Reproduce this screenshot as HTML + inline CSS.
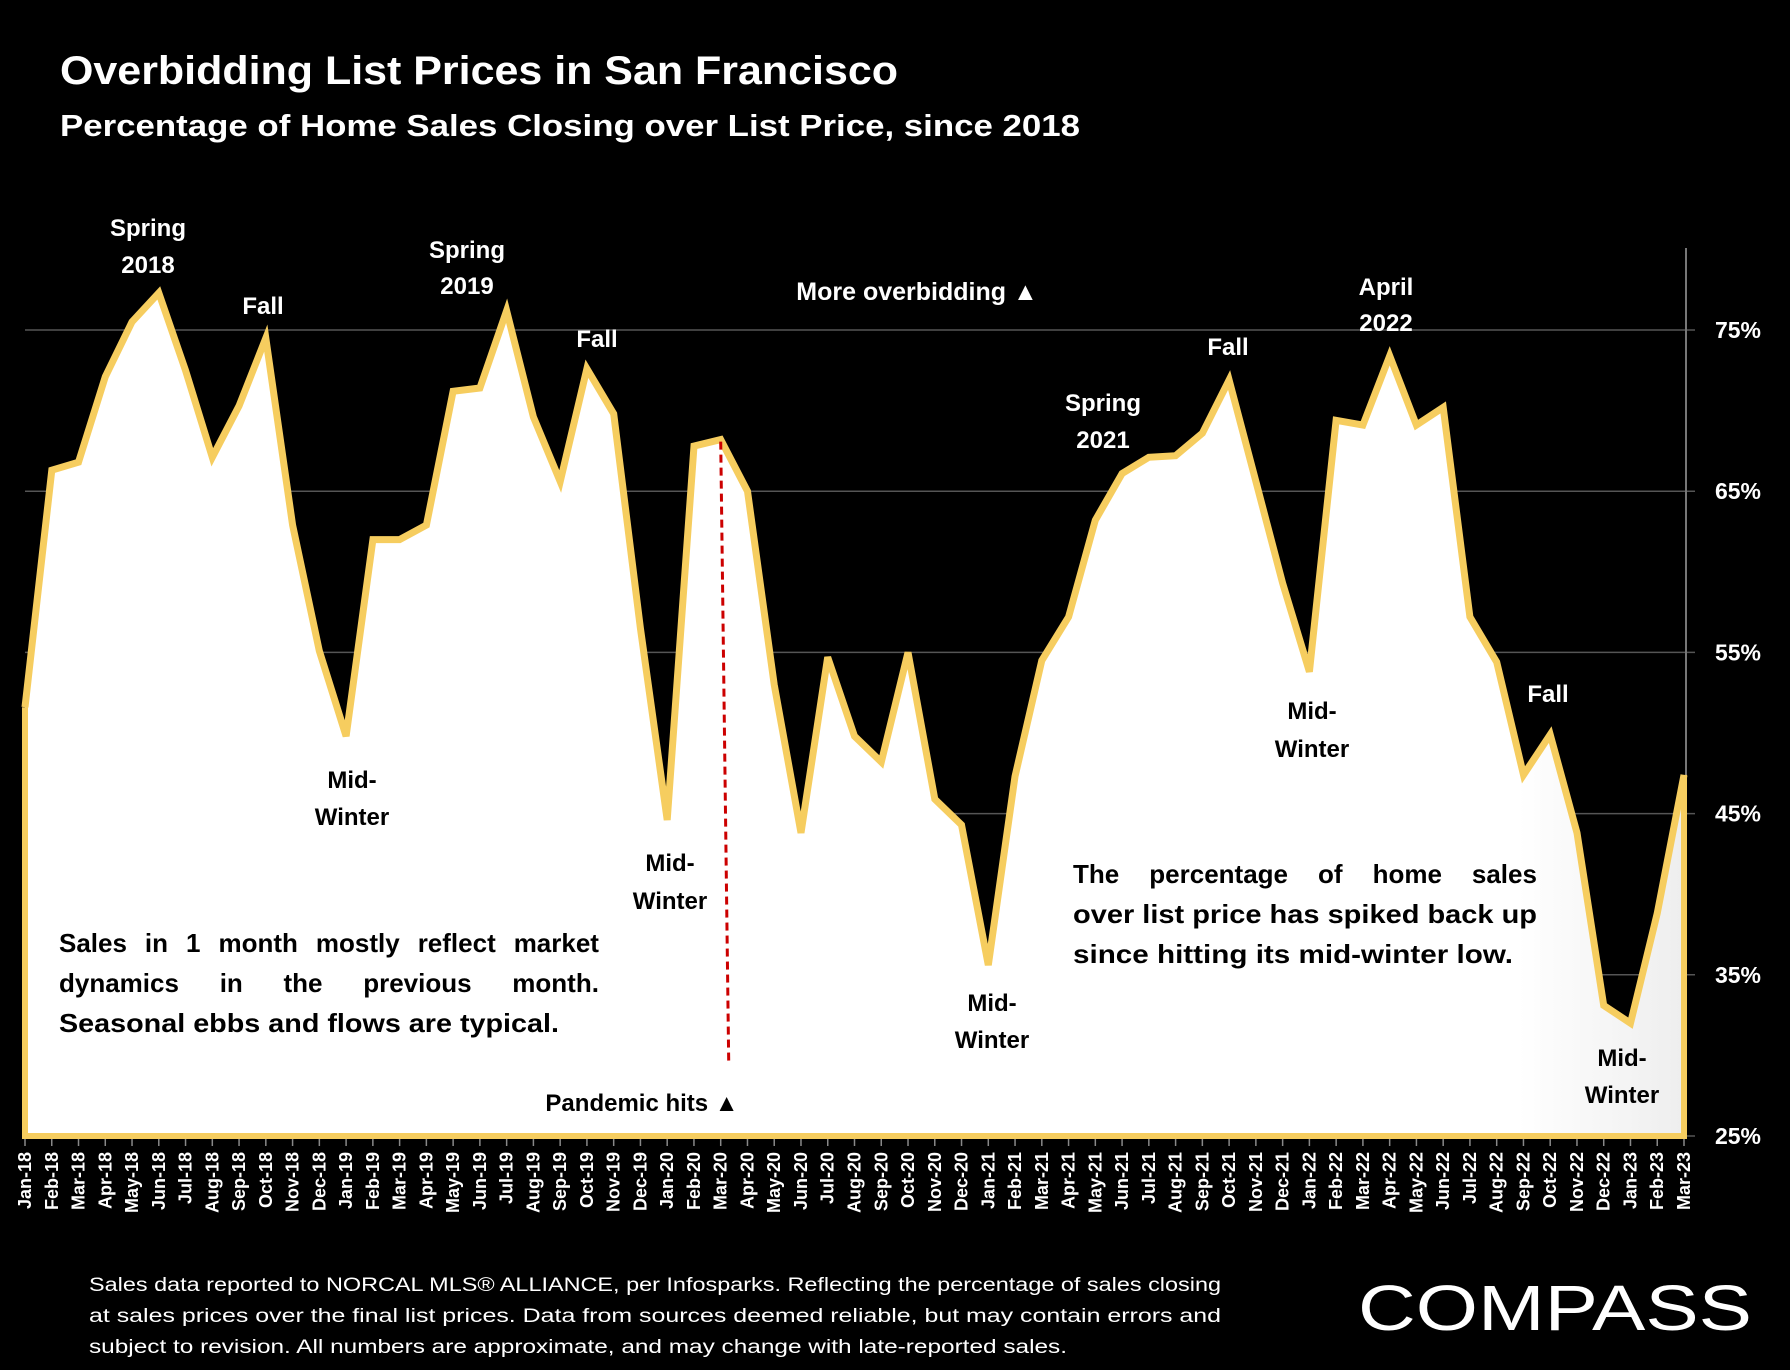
<!DOCTYPE html>
<html><head><meta charset="utf-8"><style>
html,body{margin:0;padding:0;background:#000;}
svg{display:block;font-family:"Liberation Sans",sans-serif;font-weight:bold;}
</style></head><body>
<svg id="chart" width="1790" height="1370" viewBox="0 0 1790 1370" xmlns="http://www.w3.org/2000/svg">
<defs>
<linearGradient id="fillg" x1="0" y1="0" x2="1" y2="0">
<stop offset="0" stop-color="#fff"/><stop offset="0.9" stop-color="#fff"/><stop offset="1" stop-color="#eee"/>
</linearGradient>
</defs>
<rect width="1790" height="1370" fill="#000"/>
<text x="60" y="84" fill="#fff" font-size="40" textLength="838" lengthAdjust="spacingAndGlyphs">Overbidding List Prices in San Francisco</text>
<text x="60" y="136" fill="#fff" font-size="31" textLength="1020" lengthAdjust="spacingAndGlyphs">Percentage of Home Sales Closing over List Price, since 2018</text>
<g id="grid"></g>
<g id="plot"></g>
<g id="labels" fill="#fff" font-size="24" text-anchor="middle">
<text x="148" y="236">Spring</text>
<text x="148" y="273">2018</text>
<text x="263" y="314">Fall</text>
<text x="467" y="258">Spring</text>
<text x="467" y="294">2019</text>
<text x="597" y="347">Fall</text>
<text x="917" y="300" font-size="25">More overbidding ▲</text>
<text x="1103" y="411">Spring</text>
<text x="1103" y="448">2021</text>
<text x="1228" y="355">Fall</text>
<text x="1386" y="295">April</text>
<text x="1386" y="331">2022</text>
<text x="1548" y="702">Fall</text>
</g>
<g id="labels2" fill="#000" font-size="24" text-anchor="middle">
<text x="352" y="788">Mid-</text>
<text x="352" y="825">Winter</text>
<text x="670" y="871">Mid-</text>
<text x="670" y="909">Winter</text>
<text x="873" y="592">2020 pandemic</text>
<text x="873" y="629">market</text>
<text x="992" y="1011">Mid-</text>
<text x="992" y="1048">Winter</text>
<text x="1312" y="719">Mid-</text>
<text x="1312" y="757">Winter</text>
<text x="1622" y="1066">Mid-</text>
<text x="1622" y="1103">Winter</text>
<text x="642" y="1111">Pandemic hits ▲</text>
</g>
<g fill="#000" font-size="26">
<text class="just" data-w="540" x="59" y="952">Sales in 1 month mostly reflect market</text>
<text class="just" data-w="540" x="59" y="992">dynamics in the previous month.</text>
<text x="59" y="1032" textLength="500" lengthAdjust="spacingAndGlyphs">Seasonal ebbs and flows are typical.</text>
</g>
<g fill="#000" font-size="26">
<text class="just" data-w="464" x="1073" y="883">The percentage of home sales</text>
<text x="1073" y="923" textLength="464" lengthAdjust="spacingAndGlyphs">over list price has spiked back up</text>
<text x="1073" y="963" textLength="440" lengthAdjust="spacingAndGlyphs">since hitting its mid-winter low.</text>
</g>
<g fill="#fff" font-size="19" font-weight="normal">
<text x="89" y="1291" textLength="1132" lengthAdjust="spacingAndGlyphs">Sales data reported to NORCAL MLS® ALLIANCE, per Infosparks. Reflecting the percentage of sales closing</text>
<text x="89" y="1322" textLength="1132" lengthAdjust="spacingAndGlyphs">at sales prices over the final list prices. Data from sources deemed reliable, but may contain errors and</text>
<text x="89" y="1353" textLength="978" lengthAdjust="spacingAndGlyphs">subject to revision. All numbers are approximate, and may change with late-reported sales.</text>
</g>
<text x="1358" y="1330" fill="#fff" font-size="64" font-weight="normal" textLength="394" lengthAdjust="spacingAndGlyphs">COMPASS</text>
</svg>
<script>
const months = ["Jan-18","Feb-18","Mar-18","Apr-18","May-18","Jun-18","Jul-18","Aug-18","Sep-18","Oct-18","Nov-18","Dec-18","Jan-19","Feb-19","Mar-19","Apr-19","May-19","Jun-19","Jul-19","Aug-19","Sep-19","Oct-19","Nov-19","Dec-19","Jan-20","Feb-20","Mar-20","Apr-20","May-20","Jun-20","Jul-20","Aug-20","Sep-20","Oct-20","Nov-20","Dec-20","Jan-21","Feb-21","Mar-21","Apr-21","May-21","Jun-21","Jul-21","Aug-21","Sep-21","Oct-21","Nov-21","Dec-21","Jan-22","Feb-22","Mar-22","Apr-22","May-22","Jun-22","Jul-22","Aug-22","Sep-22","Oct-22","Nov-22","Dec-22","Jan-23","Feb-23","Mar-23"];
const values = [51.6,66.3,66.8,72.1,75.5,77.3,72.5,67.1,70.3,74.5,62.9,55.1,49.8,62.0,62.0,62.9,71.2,71.4,76.2,69.6,65.6,72.6,69.8,56.5,44.6,67.8,68.2,65.0,53.0,43.8,54.7,49.8,48.2,55.0,45.9,44.3,35.6,47.3,54.5,57.2,63.2,66.1,67.1,67.2,68.6,71.9,65.6,59.3,53.8,69.4,69.1,73.4,69.1,70.2,57.2,54.4,47.4,49.9,43.8,33.1,32.0,38.8,47.4];
const yTicks = [25,35,45,55,65,75];
const pandemicIndex = 26;
const NS="http://www.w3.org/2000/svg";
const X0=25,X1=1684,Y25=1136,Y75=330;
const xS=i=>X0+(X1-X0)*i/(months.length-1);
const yS=v=>Y25+(Y75-Y25)*(v-25)/50;
function mk(t,a,p){const e=document.createElementNS(NS,t);for(const k in a)e.setAttribute(k,a[k]);p.appendChild(e);return e;}
const grid=document.getElementById('grid'),plot=document.getElementById('plot');
yTicks.forEach(t=>{
  const l=mk('line',{x1:X0,x2:1695,y1:yS(t),y2:yS(t),stroke:'#555','stroke-width':1.5},grid);
  
  
  const tx=mk('text',{x:1738,y:yS(t)+8,fill:'#fff','font-size':23,'text-anchor':'middle'},grid);
  tx.textContent=t+'%';
  
  
});
const ax=mk('line',{x1:X1+2,x2:X1+2,y1:248,y2:Y25,stroke:'#777','stroke-width':2},grid);


let d='M'+xS(0)+','+Y25;
values.forEach((v,i)=>{d+=' L'+xS(i).toFixed(1)+','+yS(v).toFixed(1);});
d+=' L'+xS(values.length-1)+','+Y25+' Z';
const area=mk('path',{d:d,fill:'url(#fillg)'},plot);


const line=mk('polyline',{points:values.map((v,i)=>xS(i).toFixed(1)+','+yS(v).toFixed(1)).join(' '),fill:'none',stroke:'#f6cd5f','stroke-width':7,'stroke-linejoin':'miter'},plot);


const base=mk('polyline',{points:`${X0},${yS(values[0])} ${X0},${Y25} ${X1},${Y25} ${X1},${yS(values[values.length-1])}`,fill:'none',stroke:'#f6cd5f','stroke-width':6},plot);


const px=xS(pandemicIndex);
const pl=mk('line',{x1:px,y1:yS(values[pandemicIndex])+2,x2:px+8,y2:1062,stroke:'#c00','stroke-width':3,'stroke-dasharray':'8,5'},plot);


months.forEach((m,i)=>{
  const x=xS(i);
  const tk=mk('line',{x1:x,x2:x,y1:Y25+3,y2:Y25+10,stroke:'#888','stroke-width':1.5},grid);
  
  
  const t=mk('text',{x:0,y:0,fill:'#fff','font-size':18,'text-anchor':'end',transform:`translate(${x+6},1152) rotate(-90)`},grid);
  t.textContent=m;
  
  
});
// justify lines by spreading word gaps
document.querySelectorAll('text.just').forEach(el=>{
  const W=+el.getAttribute('data-w'), x0=+el.getAttribute('x');
  const words=el.textContent.split(' ');
  el.textContent='';
  const spans=words.map(w=>{const s=document.createElementNS(NS,'tspan');s.textContent=w;el.appendChild(s);return s;});
  const widths=spans.map(s=>s.getComputedTextLength());
  const gap=(W-widths.reduce((a,b)=>a+b,0))/(words.length-1);
  let x=x0;
  spans.forEach((s,i)=>{s.setAttribute('x',x.toFixed(1));x+=widths[i]+gap;});
});
</script>
</body></html>
